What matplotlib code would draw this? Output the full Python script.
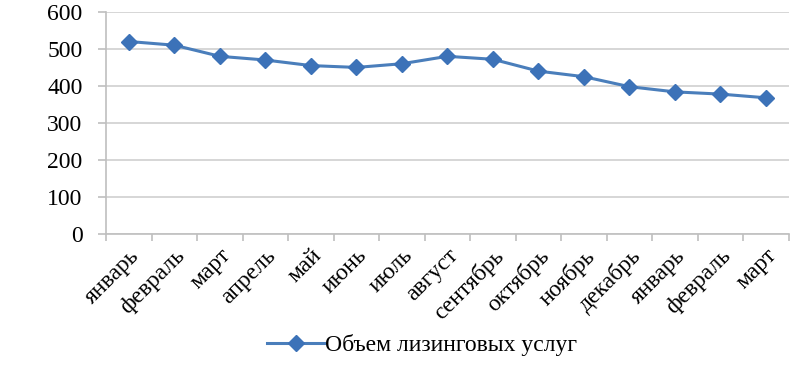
"""Leasing services volume by month."""

import matplotlib.pyplot as plt
from matplotlib.ticker import MultipleLocator

months = ['январь', 'февраль', 'март', 'апрель', 'май', 'июнь', 'июль',
          'август', 'сентябрь', 'октябрь', 'ноябрь', 'декабрь',
          'январь', 'февраль', 'март']
volume = [520, 510, 480, 470, 455, 450, 460, 480, 472, 440, 425, 398, 384, 378, 368]
series_label = 'Объем лизинговых услуг'

plt.rcParams['font.family'] = ['Liberation Serif', 'DejaVu Serif']

fig = plt.figure(figsize=(8.04, 3.71), dpi=100)
ax = fig.add_axes([0.132, 0.369, 0.849, 0.599])

x = list(range(len(months)))
ax.plot(x, volume, color='#4A7EBB', linewidth=2.2, marker='D', markersize=8.5,
        markerfacecolor='#3C72B8', markeredgecolor='#3C72B8', label=series_label)

ax.set_xlim(-0.5, len(months) - 0.5)
ax.set_ylim(0, 600)
ax.yaxis.set_major_locator(MultipleLocator(100))
ax.grid(True, axis='y', color='#D0D0D0', linewidth=1.2)
ax.set_axisbelow(True)

for side in ['top', 'right']:
    ax.spines[side].set_visible(False)
for side in ['left', 'bottom']:
    ax.spines[side].set_color('#BFBFBF')
    ax.spines[side].set_linewidth(1.2)

# category ticks sit between the points
ax.set_xticks([i - 0.5 for i in range(len(months) + 1)], minor=False)
ax.set_xticklabels([''] * (len(months) + 1))
ax.set_xticks(x, minor=True)
ax.set_xticklabels(months, minor=True, rotation=45, ha='right',
                   rotation_mode='anchor', fontsize=17)
ax.tick_params(axis='x', which='major', length=5, color='#BFBFBF', width=1.2)
ax.tick_params(axis='x', which='minor', length=0, pad=8)
ax.tick_params(axis='y', length=6, color='#BFBFBF', width=1.2, labelsize=17, pad=11)

ax.legend(loc='center', bbox_to_anchor=(0.463, -0.5), frameon=False,
          fontsize=17, handlelength=2.4, handletextpad=0.05)

plt.savefig('out.png', dpi=100)
plt.close()
